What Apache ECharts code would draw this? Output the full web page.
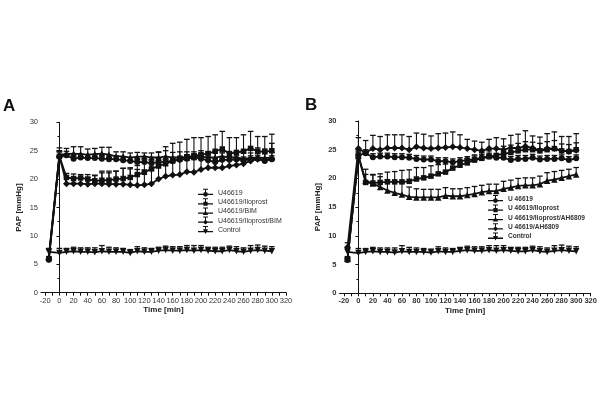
<!DOCTYPE html>
<html><head><meta charset="utf-8">
<script src="https://cdn.jsdelivr.net/npm/echarts@6/dist/echarts.min.js"></script>
<style>html,body{margin:0;padding:0;background:#fff}#c{width:600px;height:415px}</style>
</head><body><div id="c"></div><script>
// ---- data ----
const times = [-15,0,10,20,30,40,50,60,70,80,90,100,110,120,130,140,150,160,170,180,190,200,210,220,230,240,250,260,270,280,290,300];
const xTickValues = [-20,-10,0,10,20,30,40,50,60,70,80,90,100,110,120,130,140,150,160,170,180,190,200,210,220,230,240,250,260,270,280,290,300,310,320];
const xLabelValues = [-20,0,20,40,60,80,100,120,140,160,180,200,220,240,260,280,300,320];

// Panel A
const namesA = ['U46619','U46619/Iloprost','U46619/BIM','U46619/Iloprost/BIM','Control'];
const a_U46619      = [5.8,24.0,24.2,23.6,23.8,23.7,23.7,23.6,23.5,23.5,23.3,23.2,23.0,23.0,22.8,23.0,23.0,23.2,23.4,23.6,23.8,23.6,23.3,23.0,23.4,23.4,23.5,23.3,23.5,23.6,23.2,23.5];
const a_U46619_sem  = [0.3,0.8,0.7,0.6,0.6,0.6,0.6,0.6,0.6,0.6,0.6,0.6,0.6,0.6,0.6,0.6,0.6,0.6,0.6,0.6,0.6,0.6,0.6,0.6,0.6,0.6,0.6,0.6,0.6,0.6,0.6,0.6];
const a_Ilo         = [6.0,24.0,20.3,20.1,20.2,20.0,19.7,19.8,19.8,20.0,20.1,20.3,20.8,21.2,21.8,22.3,22.7,23.2,23.6,23.9,24.1,24.3,24.5,24.9,25.3,24.5,24.7,24.9,25.4,24.9,24.8,25.0];
const a_Ilo_sem     = [0.3,1.0,0.7,0.8,0.6,0.8,0.9,1.6,1.6,1.4,1.8,1.5,1.6,1.7,2.0,2.5,3.0,3.1,2.9,3.1,3.2,3.0,3.0,2.9,3.1,2.8,2.6,2.9,3.0,2.6,2.7,2.9];
const a_BIM         = [6.3,24.3,24.4,24.5,24.4,24.3,24.4,24.5,24.3,24.0,24.0,23.8,23.9,24.0,23.8,23.8,24.0,23.8,23.8,23.8,23.9,24.0,23.8,23.8,24.0,23.8,23.8,23.6,23.7,23.8,23.7,23.8];
const a_BIM_sem     = [1.3,1.2,1.0,1.2,1.3,1.0,1.0,1.1,1.3,0.8,0.8,0.8,0.8,0.6,0.8,0.9,1.0,0.9,1.0,1.0,0.9,1.0,0.8,0.9,0.8,0.9,0.9,1.0,0.9,0.8,0.9,0.9];
const a_IloBIM      = [5.9,24.0,19.2,19.2,19.2,19.1,19.2,19.2,19.1,19.1,19.1,19.0,18.9,19.0,19.2,20.0,20.5,20.7,20.8,21.3,21.2,21.7,22.0,22.0,22.0,22.3,22.5,22.7,23.2,23.5,23.3,23.6];
const a_IloBIM_sem  = [0.4,0.8,1.0,1.0,1.0,1.2,1.5,1.9,2.0,2.3,2.8,3.0,2.8,2.6,2.4,2.6,2.8,3.0,3.2,3.0,3.2,2.8,2.8,2.9,2.6,2.5,2.3,2.3,2.2,2.0,2.0,2.7];
const a_Ctrl        = [7.2,7.0,7.2,7.3,7.2,7.2,7.1,7.3,7.2,7.2,7.2,7.0,7.3,7.2,7.2,7.4,7.5,7.4,7.4,7.5,7.4,7.5,7.4,7.3,7.3,7.5,7.3,7.2,7.4,7.5,7.4,7.3];
const a_Ctrl_sem    = [0.6,0.8,0.6,0.7,0.7,0.7,0.8,1.0,0.8,0.7,0.6,0.6,0.8,0.7,0.6,0.6,0.7,0.7,0.7,0.8,0.9,0.8,0.6,0.7,0.7,0.7,0.8,0.7,0.9,0.9,0.8,0.8];

// Panel B
const namesB = ['U 46619','U 46619/Iloprost','U 46619/Iloprost/AH6809','U 46619/AH6809','Control'];
const b_U46619      = [5.8,24.0,24.4,23.7,23.8,23.8,23.7,23.7,23.6,23.4,23.3,23.3,23.0,23.0,22.8,23.0,23.2,23.3,23.6,23.8,23.6,23.6,23.2,23.4,23.4,23.6,23.3,23.4,23.4,23.5,23.2,23.5];
const b_U46619_sem  = [0.3,0.6,0.6,0.6,0.6,0.6,0.6,0.6,0.6,0.6,0.6,0.6,0.6,0.6,0.6,0.6,0.6,0.6,0.6,0.6,0.6,0.6,0.6,0.6,0.6,0.6,0.6,0.6,0.6,0.6,0.6,0.6];
const b_Ilo         = [5.9,23.8,19.3,19.2,19.3,19.4,19.4,19.4,19.5,19.9,20.1,20.4,20.8,21.1,21.8,22.3,22.7,23.2,23.5,23.8,24.0,24.3,24.5,24.8,25.0,25.0,24.8,25.0,25.2,24.8,24.7,25.0];
const b_Ilo_sem     = [0.3,0.6,1.4,1.4,1.5,1.7,1.8,2.0,2.0,2.0,1.8,1.8,1.6,1.4,1.0,0.8,0.8,0.9,1.0,1.0,1.2,1.3,1.3,1.3,1.4,1.3,1.3,1.4,1.4,1.2,1.2,1.2];
const b_IloAH       = [6.0,24.0,19.6,19.1,18.5,17.9,17.5,17.2,16.8,16.7,16.7,16.7,16.7,17.0,16.9,16.9,17.1,17.3,17.6,17.8,17.8,18.2,18.4,18.7,18.8,18.8,19.0,19.6,19.8,20.1,20.4,20.7];
const b_IloAH_sem   = [0.4,0.8,2.0,1.6,1.8,1.9,2.0,2.0,1.7,1.5,1.4,1.4,1.4,1.4,1.3,1.3,1.3,1.3,1.2,1.2,1.2,1.3,1.3,1.3,1.3,1.3,1.4,1.4,1.4,1.3,1.2,1.2];
const b_AH          = [8.0,25.2,24.5,25.2,25.0,25.3,25.3,25.3,25.0,25.5,25.3,25.2,25.3,25.4,25.5,25.4,25.2,25.0,24.8,25.2,25.2,25.0,25.3,25.3,25.6,25.3,24.9,25.2,25.2,24.8,24.7,24.9];
const b_AH_sem      = [0.8,1.9,2.1,2.3,2.3,2.3,2.3,2.3,2.3,2.4,2.4,2.2,2.5,2.5,2.6,2.2,1.6,1.5,1.5,1.6,1.9,1.9,2.2,2.4,2.7,2.1,2.3,2.6,2.9,2.5,2.6,2.9];
const b_Ctrl        = [7.2,7.0,7.2,7.3,7.2,7.2,7.1,7.3,7.2,7.2,7.2,7.1,7.3,7.2,7.2,7.4,7.5,7.4,7.4,7.5,7.4,7.5,7.4,7.3,7.3,7.5,7.3,7.2,7.4,7.5,7.4,7.3];
const b_Ctrl_sem    = [0.6,0.8,0.6,0.7,0.7,0.7,0.8,1.0,0.8,0.7,0.6,0.6,0.8,0.7,0.6,0.6,0.7,0.7,0.7,0.8,0.9,0.8,0.6,0.7,0.7,0.7,0.8,0.7,0.9,0.9,0.8,0.8];

// ---- styles ----
const INK = '#111';
const FONT = '"Liberation Sans", Arial, sans-serif';
const symbols = ['circle','rect','triangle','diamond','path://M0,0L10,0L5,10Z'];
const symSizes = [6,5.5,6.5,7,6.5];
const legendIcons = [
  'path://M0,5H15V6.3H0Z M7,1H8V5H7Z M5,0H10V1H5Z M9.9,5.6A2.4,2.4 0 1 1 5.1,5.6A2.4,2.4 0 1 1 9.9,5.6Z',
  'path://M0,5H15V6.3H0Z M7,1H8V5H7Z M5,0H10V1H5Z M5.4,3.5H9.6V7.7H5.4Z',
  'path://M0,5H15V6.3H0Z M7,1H8V5H7Z M5,0H10V1H5Z M7.5,3L10.2,7.6H4.8Z',
  'path://M0,5H15V6.3H0Z M7,1H8V5H7Z M5,0H10V1H5Z M7.5,3.1L10.1,5.6L7.5,8.1L4.9,5.6Z',
  'path://M0,5H15V6.3H0Z M7,1H8V5H7Z M5,0H10V1H5Z M4.9,3.3H10.1L7.5,8Z'
];

const panelA = { names: namesA, means: [a_U46619,a_Ilo,a_BIM,a_IloBIM,a_Ctrl], sems: [a_U46619_sem,a_Ilo_sem,a_BIM_sem,a_IloBIM_sem,a_Ctrl_sem] };
const panelB = { names: namesB, means: [b_U46619,b_Ilo,b_IloAH,b_AH,b_Ctrl], sems: [b_U46619_sem,b_Ilo_sem,b_IloAH_sem,b_AH_sem,b_Ctrl_sem] };

function errSeries(ai, mean, sem) {
  return {
    type: 'custom', xAxisIndex: ai, yAxisIndex: ai, silent: true, z: 1,
    data: times.map((t, i) => [t, mean[i], sem[i]]),
    encode: { x: 0, y: 1 },
    renderItem: (params, api) => {
      const t = api.value(0), m = api.value(1), s = api.value(2);
      const a = api.coord([t, m]), b = api.coord([t, m + s]);
      return { type: 'group', children: [
        { type: 'line', shape: { x1: a[0], y1: a[1], x2: b[0], y2: b[1] }, style: { stroke: INK, lineWidth: 1.1 } },
        { type: 'line', shape: { x1: b[0] - 2.8, y1: b[1], x2: b[0] + 2.8, y2: b[1] }, style: { stroke: INK, lineWidth: 1.3 } }
      ]};
    }
  };
}

function buildSeries(panel, ai) {
  const out = [];
  panel.names.forEach((name, k) => {
    out.push(errSeries(ai, panel.means[k], panel.sems[k]));
    out.push({
      type: 'line', name: name, xAxisIndex: ai, yAxisIndex: ai, z: 2,
      data: times.map((t, i) => [t, panel.means[k][i]]),
      symbol: symbols[k], symbolSize: symSizes[k], showSymbol: true,
      lineStyle: { color: INK, width: 1.8 }, itemStyle: { color: INK },
      emphasis: { disabled: true }
    });
  });
  return out;
}

function xAxisDef(gi, bold) {
  return {
    type: 'value', gridIndex: gi, min: -26, max: 320,
    name: 'Time [min]', nameLocation: 'middle', nameGap: 13,
    nameTextStyle: { fontFamily: FONT, fontSize: 8, fontWeight: 'bold', color: '#222' },
    axisLine: { show: true, onZero: false, lineStyle: { color: INK, width: 1 } },
    axisTick: { show: true, customValues: xTickValues, length: 3, lineStyle: { color: INK } },
    axisLabel: { customValues: xLabelValues, fontFamily: FONT, fontSize: 7.5, fontWeight: bold ? 'bold' : 'normal', color: '#333', margin: 4 },
    splitLine: { show: false }
  };
}
function yAxisDef(gi, bold) {
  return {
    type: 'value', gridIndex: gi, min: 0, max: 30, interval: 5,
    name: 'PAP [mmHg]', nameLocation: 'middle', nameGap: 18,
    nameTextStyle: { fontFamily: FONT, fontSize: 8, fontWeight: 'bold', color: '#222' },
    axisLine: { show: true, lineStyle: { color: INK, width: 1 } },
    axisTick: { show: true, length: 3, lineStyle: { color: INK } },
    minorTick: { show: true, splitNumber: 2, length: 2, lineStyle: { color: INK } },
    axisLabel: { fontFamily: FONT, fontSize: 7.5, fontWeight: bold ? 'bold' : 'normal', color: '#333', margin: 3 },
    splitLine: { show: false }
  };
}

function legendDef(panel, left, top, gap, bold, fs) {
  return {
    orient: 'vertical', left: left, top: top, padding: 0,
    itemWidth: 15, itemHeight: 8, itemGap: gap, selectedMode: false,
    textStyle: { fontFamily: FONT, fontSize: fs, lineHeight: 8, fontWeight: bold ? 'bold' : 'normal', color: '#333', padding: [0,0,0,0] },
    data: panel.names.map((n, k) => ({ name: n, icon: legendIcons[k] }))
  };
}

const chart = echarts.init(document.getElementById('c'), null, { renderer: 'canvas' });
chart.setOption({
  animation: false,
  backgroundColor: '#fff',
  title: [
    { text: 'A', left: 3, top: 98, padding: 0, textStyle: { fontFamily: FONT, fontSize: 17, fontWeight: 'bold', color: '#111' } },
    { text: 'B', left: 305, top: 97, padding: 0, textStyle: { fontFamily: FONT, fontSize: 17, fontWeight: 'bold', color: '#111' } }
  ],
  grid: [
    { left: 41, top: 122.3, width: 245, height: 170.4 },
    { left: 339.5, top: 121, width: 251.2, height: 172.3 }
  ],
  xAxis: [xAxisDef(0, false), xAxisDef(1, true)],
  yAxis: [yAxisDef(0, false), yAxisDef(1, true)],
  legend: [legendDef(panelA, 198, 188.7, 1.3, false, 7), legendDef(panelB, 488, 195, 1.4, true, 6.6)],
  series: buildSeries(panelA, 0).concat(buildSeries(panelB, 1))
});
</script></body></html>
